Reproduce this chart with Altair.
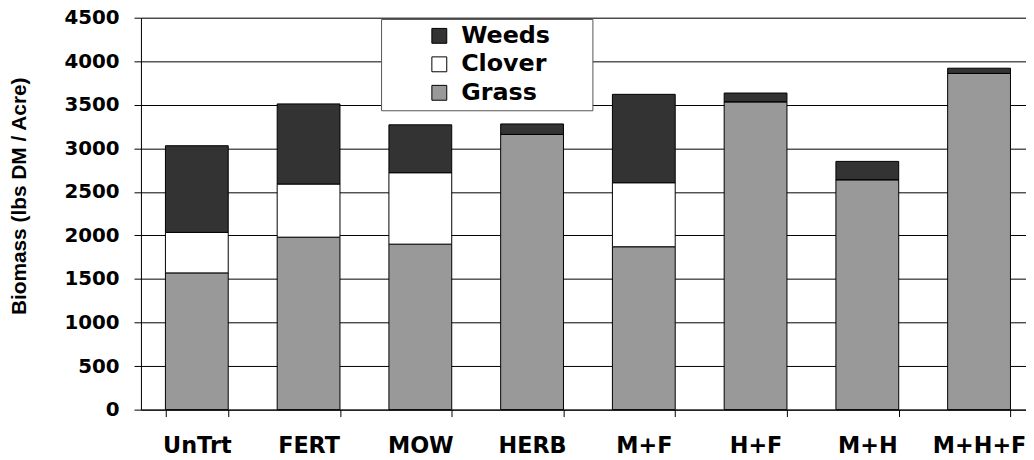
import altair as alt
import pandas as pd

treatments = ["UnTrt", "FERT", "MOW", "HERB", "M+F", "H+F", "M+H", "M+H+F"]
grass = [1570, 1980, 1900, 3160, 1870, 3535, 2640, 3860]
clover = [465, 610, 820, 0, 735, 0, 0, 0]
weeds = [995, 920, 550, 120, 1015, 100, 210, 60]
components = ["Weeds", "Clover", "Grass"]
component_colors = ["#333333", "#ffffff", "#999999"]
y_ticks = list(range(0, 4501, 500))

rows = []
for i, t in enumerate(treatments):
    for comp, vals, order in (("Grass", grass, 0), ("Clover", clover, 1), ("Weeds", weeds, 2)):
        rows.append({"Treatment": t, "Component": comp, "Biomass": vals[i], "Order": order})
df = pd.DataFrame(rows)

bold_font = "DejaVu Sans"

chart = alt.Chart(df).mark_bar(stroke="black", strokeWidth=1).encode(
    x=alt.X(
        "Treatment:N",
        sort=treatments,
        scale=alt.Scale(range=[0, 901], paddingInner=0.438, paddingOuter=0.219),
        axis=alt.Axis(
            title=None, labelAngle=0, tickBand="extent", tickSize=7,
            tickColor="black", domainColor="black", grid=False,
            labelFont=bold_font, labelFontSize=22.5, labelFontWeight="bold",
            labelColor="black", labelPadding=18,
        ),
    ),
    y=alt.Y(
        "Biomass:Q",
        stack="zero",
        scale=alt.Scale(domain=[0, 4500], nice=False),
        axis=alt.Axis(
            values=y_ticks, format="d", title="Biomass (lbs  DM / Acre)",
            titleFont="Liberation Sans", titleFontSize=21, titleFontWeight="bold",
            titleColor="black", titleX=-122, titleY=179.5, titleAngle=270,
            titleAlign="center", titleBaseline="middle",
            labelFont=bold_font, labelFontSize=20, labelFontWeight="bold",
            labelColor="black", labelPadding=15, tickSize=7, tickColor="black",
            domainColor="black", grid=True, gridColor="black", gridWidth=1,
        ),
    ),
    color=alt.Color(
        "Component:N",
        scale=alt.Scale(domain=components, range=component_colors),
        legend=alt.Legend(
            title=" ", titleOrient="right", titlePadding=38, titleFontSize=1,
            orient="none", legendX=242, legendY=1.3, padding=5,
            fillColor="white", strokeColor="#555555",
            symbolType="square", symbolSize=225, symbolStrokeColor="black",
            symbolStrokeWidth=1, symbolOffset=41.7, labelOffset=10,
            labelFont=bold_font, labelFontWeight="bold", labelFontSize=24,
            labelColor="black", rowPadding=4.7, labelBaseline="middle",
        ),
    ),
    order=alt.Order("Order:Q", sort="ascending"),
).properties(
    width=892,
    height=395,
    autosize=alt.AutoSizeParams(type="none"),
    padding={"left": 134, "top": 8, "right": 0, "bottom": 48},
).configure_view(stroke=None).configure(background="white")

chart.save("out.html", embed_options={"renderer": "svg", "actions": False})
